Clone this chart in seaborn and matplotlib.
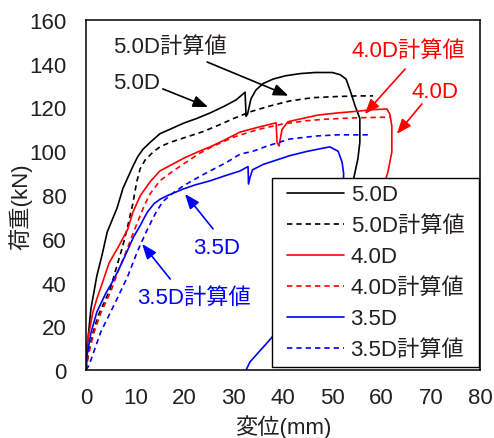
import matplotlib
matplotlib.use("Agg")
import matplotlib.pyplot as plt
from matplotlib.path import Path
import seaborn as sns
import pandas as pd

# ---------------- data ----------------
x_50 = [0, 0.3, 1.0, 2.2, 3.2, 4.3, 5.2, 6.3, 7.5, 8.7, 9.5, 10.5, 11.6, 13.0, 15.0, 17.5, 20.0, 22.5,
        25.2, 28.0, 30.5, 32.3, 32.5, 32.8, 33.5, 34.5, 36.0, 38.0, 40.5, 43.5, 46.5, 50.0, 51.6, 52.8,
        53.6, 54.6, 55.6, 55.6, 55.2, 54.2, 53.5, 53.0]
y_50 = [0, 12, 28, 43, 52, 63, 68, 74, 83, 89, 93, 97.5, 101, 104, 108, 110.5, 113, 115,
        117.5, 120.5, 123.5, 127, 116, 117, 124, 128, 131, 133, 134.5, 135.5, 136, 136, 135, 133,
        128, 121, 115, 104, 96.5, 86, 60, 30]

x_50c = [0, 0.5, 1.4, 2.5, 4.9, 6.2, 7.5, 8.5, 9.5, 10.3, 11.0, 12.0, 13.6, 15.0, 17.0, 19.7, 23.8,
         27.0, 30.0, 33.3, 37.0, 41.4, 46.0, 51.0, 55.0, 58.3]
y_50c = [0, 8, 17, 25, 37, 47, 57, 66, 76, 86, 92, 96, 99.6, 102, 104, 106, 109,
         112, 115, 118, 120.5, 123, 124.5, 125, 125.3, 125.3]

x_40 = [0, 0.2, 0.6, 1.4, 2.2, 3.5, 4.7, 6.5, 8.5, 9.5, 11.0, 13.0, 15.0, 17.5, 20.0, 23.0, 25.2,
        28.0, 31.3, 35.0, 38.6, 38.8, 39.2, 39.8, 41.0, 44.0, 47.0, 51.0, 55.6, 58.0, 61.1, 61.7,
        62.1, 62.1, 61.3, 60.7, 60.0]
y_40 = [0, 12, 17, 26.5, 32.5, 41, 49, 56, 64.5, 72, 79.6, 86, 91, 94, 97, 100, 102,
        105, 108.8, 111, 113, 104, 102.4, 110, 113.5, 115, 116.5, 117.5, 118.4, 119, 119.3, 117,
        111.5, 99.7, 90.5, 86, 60]

x_40c = [0, 0.5, 1.6, 3.0, 5.0, 6.5, 8.3, 10.0, 11.8, 13.0, 15.0, 17.7, 20.0, 23.0, 26.0, 30.0,
         35.0, 40.0, 45.0, 48.9, 55.0, 61.7]
y_40c = [0, 7, 17, 26, 35.7, 45, 55, 65, 75, 80.5, 86.5, 91, 94.5, 99, 102.5, 106.5,
         110, 112.5, 114, 114.7, 115.3, 115.6]

x_35 = [0, 0.2, 1.0, 2.2, 4.0, 5.7, 7.5, 9.7, 11.0, 12.4, 13.8, 15.0, 16.4, 19.7, 22.0, 25.2, 28.5,
        31.3, 32.9, 33.0, 33.3, 33.8, 36.0, 41.4, 45.0, 49.5, 51.2, 52.0, 52.3, 52.3, 51.5, 48.0,
        43.0, 39.5, 37.4, 35.0, 33.3, 32.5]
y_35 = [0, 6.4, 17, 26.5, 35, 41.6, 50, 61, 66, 72, 76, 78, 79.6, 82.7, 84.5, 86.5, 89,
        91, 93, 85, 88, 91.5, 94, 98, 100, 102, 100, 95, 90, 86, 70, 45,
        30, 20, 14, 8, 3.7, 0]

x_35c = [0, 0.6, 3.0, 6.3, 8.5, 10.4, 12.4, 14.2, 15.6, 17.7, 20.0, 23.1, 25.2, 28.6, 31.3, 33.9,
         36.8, 41.4, 46.9, 51.0, 58.0]
y_35c = [0, 2, 17.4, 32.5, 43, 54, 64, 72, 77, 81, 84.5, 88.5, 91, 95, 98.7, 100,
         102.4, 105.6, 107, 107.5, 107.5]

labels = ["5.0D", "5.0D計算値", "4.0D", "4.0D計算値", "3.5D", "3.5D計算値"]
x_ticks = [0, 10, 20, 30, 40, 50, 60, 70, 80]
y_ticks = [0, 20, 40, 60, 80, 100, 120, 140, 160]

# ---------------- style ----------------
sns.set_style("white")
plt.rcParams["font.family"] = ["Liberation Sans", "Noto Sans CJK JP", "DejaVu Sans"]
plt.rcParams["axes.unicode_minus"] = False
TXT = "#231f20"
FS = 16

fig = plt.figure(figsize=(4.94, 4.39), dpi=100)
ax = fig.add_axes([86 / 494, 1 - 371 / 439, (480 - 86) / 494, (371 - 21) / 439])

DASH = (0, (3.2, 2.4))
series = [
    (x_50, y_50, "black", "-"),
    (x_50c, y_50c, "black", DASH),
    (x_40, y_40, "#ff0000", "-"),
    (x_40c, y_40c, "#ff0000", DASH),
    (x_35, y_35, "#0000ff", "-"),
    (x_35c, y_35c, "#0000ff", DASH),
]
for (xs, ys, c, ls), lab in zip(series, labels):
    df = pd.DataFrame({"x": xs, "y": ys})
    sns.lineplot(data=df, x="x", y="y", sort=False, estimator=None, color=c,
                 linestyle=ls, lw=1.2, label=lab, ax=ax)

ax.set_xlim(0, 80)
ax.set_ylim(0, 160)
ax.set_xticks(x_ticks)
ax.set_yticks(y_ticks)
ax.tick_params(direction="in", length=4, width=1, colors="black", labelcolor=TXT,
               labelsize=FS)
ax.tick_params(axis="x", pad=12)
ax.tick_params(axis="y", pad=14)
for s in ax.spines.values():
    s.set_color("black")
    s.set_linewidth(1.1)
ax.set_xlabel("変位(mm)", fontsize=FS, color=TXT, labelpad=5)
ax.set_ylabel("荷重(kN)", fontsize=FS, color=TXT)
ax.yaxis.set_label_coords(-0.135, 0.47)

# annotations
arrow = dict(arrowstyle="-|>,head_length=0.9,head_width=0.35", mutation_scale=10,
             lw=1.2, shrinkA=0, shrinkB=0)
notes = [
    ("5.0D計算値", (17.1, 148.1), (24.6, 140.8), (41.1, 125.4), "black"),
    ("5.0D", (10.2, 131.2), (15.6, 128.5), (24.8, 120.2), "black"),
    ("4.0D計算値", (65.4, 146.3), (64.8, 137.6), (56.6, 117.0), "#ff0000"),
    ("4.0D", (70.9, 127.1), (68.2, 121.6), (63.1, 107.9), "#ff0000"),
    ("3.5D", (26.6, 56.2), (25.8, 64.5), (20.1, 80.5), "#0000ff"),
    ("3.5D計算値", (21.9, 33.4), (17.1, 41.6), (11.4, 57.6), "#0000ff"),
]
for txt, tpos, start, tip, c in notes:
    ax.text(tpos[0], tpos[1], txt, color=TXT if c == "black" else c, fontsize=FS,
            ha="center", va="center")
    ax.annotate("", xy=tip, xytext=start,
                arrowprops=dict(arrow, color=c, fc=c, ec=c))


# legend frame padded horizontally only
class HPadSquare:
    def __init__(self, padx):
        self.padx = padx

    def __call__(self, x0, y0, width, height, mutation_size):
        p = self.padx
        x0 -= p
        width += 2 * p
        return Path([(x0, y0), (x0 + width, y0), (x0 + width, y0 + height),
                     (x0, y0 + height), (x0, y0)], closed=True)


leg = ax.legend(loc="lower right", bbox_to_anchor=((471 - 86) / 394, 3 / 350),
                fontsize=FS, frameon=True, fancybox=False,
                edgecolor="black", framealpha=1, handlelength=2.57, handletextpad=0.3,
                labelspacing=0.45, borderpad=0.3, borderaxespad=0.0)
leg.get_frame().set_linewidth(1.0)
leg.get_frame().set_boxstyle(HPadSquare(8))
for t in leg.get_texts():
    t.set_color(TXT)

fig.savefig("out.png", dpi=100)
